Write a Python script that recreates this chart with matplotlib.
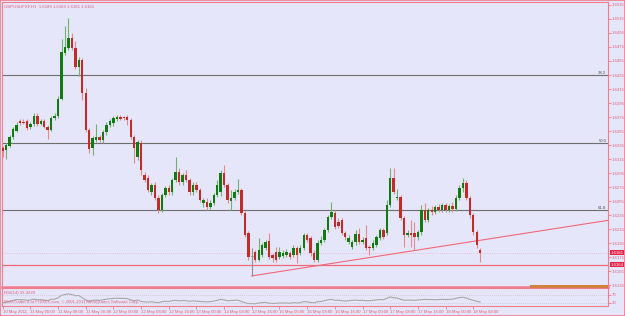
import matplotlib
matplotlib.use("Agg")
import matplotlib.pyplot as plt
import matplotlib.transforms as mtransforms
from matplotlib.patches import Rectangle

# GBPUSD H1 bars, 10 May 16:00 .. 18 May 10:00
opens = [1.6331, 1.6328, 1.6334, 1.6346, 1.6355, 1.6369, 1.6368, 1.6369, 1.6361, 1.6365,
         1.6376, 1.6365, 1.6369, 1.6361, 1.6356, 1.6374, 1.6376, 1.6401, 1.6466, 1.6474,
         1.6488, 1.6474, 1.6446, 1.6456, 1.6409, 1.6356, 1.6331, 1.6342, 1.6346, 1.6342,
         1.6354, 1.6364, 1.6366, 1.6372, 1.6375, 1.6375, 1.6375, 1.6371, 1.6346, 1.6318,
         1.6338, 1.6292, 1.6288, 1.6268, 1.6278, 1.6259, 1.6242, 1.6264, 1.6274, 1.6268,
         1.6285, 1.6296, 1.6282, 1.6292, 1.6285, 1.6268, 1.6278, 1.6271, 1.6252, 1.6254,
         1.6246, 1.6252, 1.6264, 1.6268, 1.6295, 1.6278, 1.6255, 1.6259, 1.6268, 1.6271,
         1.6238, 1.6209, 1.6176, 1.6182, 1.6171, 1.6178, 1.6188, 1.6198, 1.6178, 1.6182,
         1.6175, 1.6176, 1.6178, 1.6181, 1.6178, 1.6188, 1.6181, 1.6188, 1.6206, 1.6202,
         1.6181, 1.6171, 1.6195, 1.6199, 1.6214, 1.6232, 1.6238, 1.6225, 1.6228, 1.6209,
         1.6196, 1.6189, 1.6196, 1.6208, 1.6196, 1.6202, 1.6189, 1.6188, 1.6192, 1.6202,
         1.6214, 1.6209, 1.6249, 1.6288, 1.6259, 1.6261, 1.6231, 1.6206, 1.6209, 1.6209,
         1.6204, 1.6211, 1.6242, 1.6228, 1.6242, 1.6239, 1.6246, 1.6242, 1.6249, 1.6242,
         1.6248, 1.6244, 1.6259, 1.6274, 1.6281, 1.6259, 1.6235, 1.6211, 1.6185]
highs = [1.6334, 1.6338, 1.6349, 1.6361, 1.6368, 1.6372, 1.6372, 1.6372, 1.6368, 1.6381,
         1.6381, 1.6372, 1.6372, 1.6364, 1.6376, 1.6381, 1.6405, 1.6486, 1.6505, 1.6516,
         1.6495, 1.6484, 1.6461, 1.6459, 1.6416, 1.6359, 1.6348, 1.6365, 1.6349, 1.6356,
         1.6368, 1.6372, 1.6376, 1.6378, 1.6378, 1.6376, 1.6378, 1.6374, 1.6349, 1.6342,
         1.6342, 1.6296, 1.6292, 1.6281, 1.6282, 1.6264, 1.6266, 1.6276, 1.6278, 1.6288,
         1.6318, 1.6302, 1.6295, 1.6299, 1.6288, 1.6282, 1.6282, 1.6274, 1.6259, 1.6259,
         1.6256, 1.6266, 1.6285, 1.6299, 1.6306, 1.6281, 1.6271, 1.6272, 1.6286, 1.6274,
         1.6241, 1.6212, 1.6188, 1.6185, 1.6202, 1.6195, 1.6199, 1.6209, 1.6181, 1.6189,
         1.6189, 1.6185, 1.6186, 1.6184, 1.6192, 1.6191, 1.6192, 1.6209, 1.6209, 1.6205,
         1.6185, 1.6199, 1.6205, 1.6216, 1.6235, 1.6254, 1.6242, 1.6231, 1.6231, 1.6212,
         1.6206, 1.6199, 1.6214, 1.6216, 1.6204, 1.6221, 1.6192, 1.6199, 1.6206, 1.6216,
         1.6216, 1.6256, 1.6302, 1.6302, 1.6272, 1.6264, 1.6234, 1.6214, 1.6228, 1.6225,
         1.6214, 1.6249, 1.6252, 1.6245, 1.6248, 1.6249, 1.6251, 1.6252, 1.6252, 1.6251,
         1.6254, 1.6264, 1.6278, 1.6288, 1.6285, 1.6262, 1.6238, 1.6214, 1.6188]
lows = [1.6318, 1.6315, 1.6332, 1.6344, 1.6354, 1.6364, 1.6365, 1.6356, 1.6358, 1.6362,
        1.6362, 1.6364, 1.6359, 1.6344, 1.6355, 1.6371, 1.6374, 1.6399, 1.6464, 1.6471,
        1.6471, 1.6444, 1.6434, 1.6399, 1.6354, 1.6324, 1.6321, 1.6339, 1.6339, 1.6338,
        1.6349, 1.6361, 1.6362, 1.6369, 1.6371, 1.6371, 1.6364, 1.6344, 1.6309, 1.6314,
        1.6292, 1.6282, 1.6268, 1.6264, 1.6256, 1.6238, 1.6239, 1.6261, 1.6264, 1.6264,
        1.6282, 1.6278, 1.6278, 1.6282, 1.6264, 1.6264, 1.6268, 1.6254, 1.6246, 1.6242,
        1.6244, 1.6249, 1.6261, 1.6262, 1.6275, 1.6252, 1.6242, 1.6256, 1.6265, 1.6235,
        1.6204, 1.6171, 1.6148, 1.6168, 1.6169, 1.6175, 1.6185, 1.6172, 1.6168, 1.6168,
        1.6172, 1.6174, 1.6175, 1.6172, 1.6175, 1.6166, 1.6178, 1.6185, 1.6196, 1.6176,
        1.6168, 1.6168, 1.6192, 1.6196, 1.6211, 1.6229, 1.6215, 1.6216, 1.6206, 1.6199,
        1.6194, 1.6186, 1.6192, 1.6194, 1.6194, 1.6185, 1.6178, 1.6185, 1.6189, 1.6199,
        1.6201, 1.6206, 1.6246, 1.6265, 1.6256, 1.6228, 1.6189, 1.6204, 1.6189, 1.6185,
        1.6199, 1.6206, 1.6225, 1.6225, 1.6235, 1.6236, 1.6239, 1.6239, 1.6239, 1.6239,
        1.6239, 1.6241, 1.6256, 1.6268, 1.6256, 1.6231, 1.6206, 1.6188, 1.6168]
closes = [1.6326, 1.6335, 1.6346, 1.6358, 1.6364, 1.6366, 1.6366, 1.6359, 1.6365, 1.6376,
          1.6365, 1.6369, 1.6361, 1.6356, 1.6374, 1.6376, 1.6401, 1.6468, 1.6475, 1.6488,
          1.6474, 1.6446, 1.6456, 1.6409, 1.6356, 1.6329, 1.6345, 1.6346, 1.6342, 1.6354,
          1.6364, 1.6369, 1.6374, 1.6375, 1.6372, 1.6374, 1.6371, 1.6346, 1.6331, 1.6339,
          1.6299, 1.6285, 1.6271, 1.6278, 1.6259, 1.6242, 1.6264, 1.6274, 1.6268, 1.6285,
          1.6296, 1.6282, 1.6292, 1.6285, 1.6268, 1.6278, 1.6271, 1.6256, 1.6256, 1.6246,
          1.6252, 1.6264, 1.6278, 1.6295, 1.6278, 1.6256, 1.6259, 1.6268, 1.6271, 1.6238,
          1.6206, 1.6175, 1.6176, 1.6171, 1.6185, 1.6192, 1.6196, 1.6175, 1.6174, 1.6171,
          1.6182, 1.6181, 1.6182, 1.6175, 1.6188, 1.6178, 1.6188, 1.6206, 1.6199, 1.6181,
          1.6171, 1.6195, 1.6199, 1.6214, 1.6232, 1.6239, 1.6218, 1.6219, 1.6209, 1.6204,
          1.6202, 1.6196, 1.6208, 1.6196, 1.6199, 1.6188, 1.6188, 1.6195, 1.6204, 1.6214,
          1.6204, 1.6249, 1.6288, 1.6268, 1.6261, 1.6231, 1.6206, 1.6209, 1.6206, 1.6204,
          1.6211, 1.6242, 1.6228, 1.6242, 1.6239, 1.6246, 1.6242, 1.6249, 1.6242, 1.6248,
          1.6244, 1.6259, 1.6274, 1.6281, 1.6259, 1.6235, 1.6211, 1.6192, 1.6181]

rsi = [28, 32, 38, 42, 46,
       45, 45, 42, 44, 48, 45, 46, 43, 41, 47, 48, 55,
       68, 72, 75, 72, 66, 67,
       55, 44, 38, 42, 43,
       42, 45, 48, 50, 52, 53, 52, 52, 51,
       44, 40, 44, 36, 34,
       33, 35, 32, 30, 35, 37, 36, 40, 42, 39, 41, 40, 37, 39, 38, 36,
       35, 34, 35, 38, 42, 47, 44, 40, 41, 42, 43,
       36, 30, 25, 25, 24,
       28, 30, 31, 27, 26, 26, 28, 28, 28, 27, 30, 28, 30, 35, 34, 31, 29,
       35, 36, 40, 45, 47, 42, 43, 40, 38,
       40, 42, 43, 41, 42, 40, 40, 42, 44, 46, 45,
       52, 60, 55, 54, 47, 43, 43, 43, 42,
       44, 45, 47, 46, 46, 45, 46, 47, 46, 47, 48, 52, 56, 58, 54, 47, 42, 37, 33.4]

date_labels = ["10 May 2011", "11 May 00:00", "11 May 08:00", "11 May 16:00",
               "12 May 00:00", "12 May 08:00", "12 May 16:00", "13 May 00:00",
               "13 May 08:00", "13 May 16:00", "16 May 00:00", "16 May 08:00",
               "16 May 16:00", "17 May 00:00", "17 May 08:00", "17 May 16:00",
               "18 May 00:00", "18 May 08:00"]
label_step = 8

price_ticks = [1.6535 - 0.002 * k for k in range(21)]
fibo_levels = [1.6435, 1.6338, 1.6242]
fibo_names = ["38.2", "50.0", "61.8"]
support_level = 1.6164
bid = 1.6181
trend_pts = [(72, 1.6148), (120, 1.6185)]
orange_box = (152.5, 1.6131, 1.6135)
rsi_levels = [70, 30]

title = "GBPUSDFXF,H1  1.6189 1.6189 1.6181 1.6181"
rsi_title = "RSI(14) 33.4220"
copyright_txt = "MetaTrader 4 at FOREX.com, \u00a9 2001-2011 MetaQuotes Software Corp."

BG = "#e6e6fa"
FG = "#f07c8c"
TXT = "#e0607a"
UP, DN = "#117a11", "#c42a2a"
UPW, DNW = "#70b070", "#e48a8a"
FS = 3.1

plt.rcParams["font.family"] = ["Liberation Sans", "DejaVu Sans"]

W, H = 625, 316


def box(x0, y0, x1, y1):
    return [x0 / W, 1 - y1 / H, (x1 - x0) / W, (y1 - y0) / H]


fig = plt.figure(figsize=(W / 100, H / 100), dpi=100)
fig.patch.set_facecolor(BG)

ax = fig.add_axes(box(2, 2, 608, 287))
rx = fig.add_axes(box(2, 288, 608, 306))

xmin = -0.2
xmax = xmin + 606 / 3.46

for a in (ax, rx):
    a.set_facecolor(BG)
    a.set_xlim(xmin, xmax)
    for s in a.spines.values():
        s.set_color(FG)
        s.set_linewidth(0.8)
ax.spines["bottom"].set_linewidth(1.8)

# candles
for i, (o, h, l, c) in enumerate(zip(opens, highs, lows, closes)):
    if c > o:
        bc, wc = UP, UPW
    elif c < o:
        bc, wc = DN, DNW
    else:
        bc, wc = "#808080", "#909090"
    ax.vlines(i, l, h, color=wc, lw=0.8, zorder=2)
    if c == o:
        ax.hlines(o, i - 0.35, i + 0.35, color=bc, lw=0.8, zorder=3)
    else:
        ax.bar(i, c - o, bottom=o, width=0.7, color=bc, lw=0, zorder=3)

ax.set_ylim(1.6535 - 282 / 7000, 1.6535 + 3 / 7000)
ax.set_xticks([])
ax.yaxis.tick_right()
ax.set_yticks(price_ticks)
ax.set_yticklabels(["%.4f" % p for p in price_ticks])
ax.tick_params(axis="y", length=2, width=0.6, color=FG, labelsize=FS,
               labelcolor=TXT, pad=0.8)

# fibo lines
for lev, name in zip(fibo_levels, fibo_names):
    ax.axhline(lev, color="#6e6e6e", lw=0.8, zorder=1)
    ax.text(xmax - 0.5, lev, name, ha="right", va="bottom", fontsize=FS,
            color="#505050")

# support, bid, trend line
ax.axhline(support_level, color="#f06878", lw=0.9, zorder=1)
ax.axhline(bid, color="#f0a0b0", lw=0.5, ls=(0, (1, 2)), zorder=1)
(x1, y1), (x2, y2) = trend_pts
slope = (y2 - y1) / (x2 - x1)
ax.plot([x1, xmax], [y1, y1 + slope * (xmax - x1)], color="#f06878", lw=0.8,
        zorder=1)

ax.add_patch(Rectangle((orange_box[0], orange_box[1]), xmax - orange_box[0],
                       orange_box[2] - orange_box[1], color="#d2803c",
                       lw=0, zorder=4, clip_on=False))

# price tags on the scale
trans = mtransforms.blended_transform_factory(ax.transAxes, ax.transData)
for lev in (bid, support_level):
    ax.text(1.0045, lev, "%.4f" % lev, transform=trans, fontsize=FS,
            color="white", va="center", ha="left",
            bbox=dict(facecolor="#e8204a", edgecolor="none", pad=0.5))

ax.text(0.003, 0.992, title, transform=ax.transAxes, fontsize=FS, color=TXT,
        va="top", ha="left")

# RSI window
rx.plot(range(len(rsi)), rsi, color="#a8a8a8", lw=0.8)
rx.set_ylim(12.5, 106)
for lev in rsi_levels:
    rx.axhline(lev, color="#b8b8c8", lw=0.5, ls=(0, (1, 2)))
rx.yaxis.tick_right()
rx.set_yticks(rsi_levels)
rx.set_yticklabels([str(v) for v in rsi_levels])
rx.tick_params(axis="y", length=2, width=0.6, color=FG, labelsize=FS,
               labelcolor=TXT, pad=0.8)
rx.set_xticks(range(0, len(opens), label_step))
rx.set_xticklabels(date_labels)
rx.tick_params(axis="x", length=2.5, width=0.6, color=FG, labelsize=FS,
               labelcolor=TXT, pad=0.5)
for lbl in rx.get_xticklabels():
    lbl.set_ha("left")
rx.text(0.003, 0.85, rsi_title, transform=rx.transAxes, fontsize=FS,
        color=TXT, va="top", ha="left")
rx.text(0.003, 0.1, copyright_txt, transform=rx.transAxes, fontsize=FS,
        color=TXT, va="bottom", ha="left")

fig.patches.append(Rectangle((0, 0), 1, 1, transform=fig.transFigure,
                             fill=False, edgecolor=FG, lw=1.2))

fig.savefig("out.png", dpi=100, facecolor=BG)
